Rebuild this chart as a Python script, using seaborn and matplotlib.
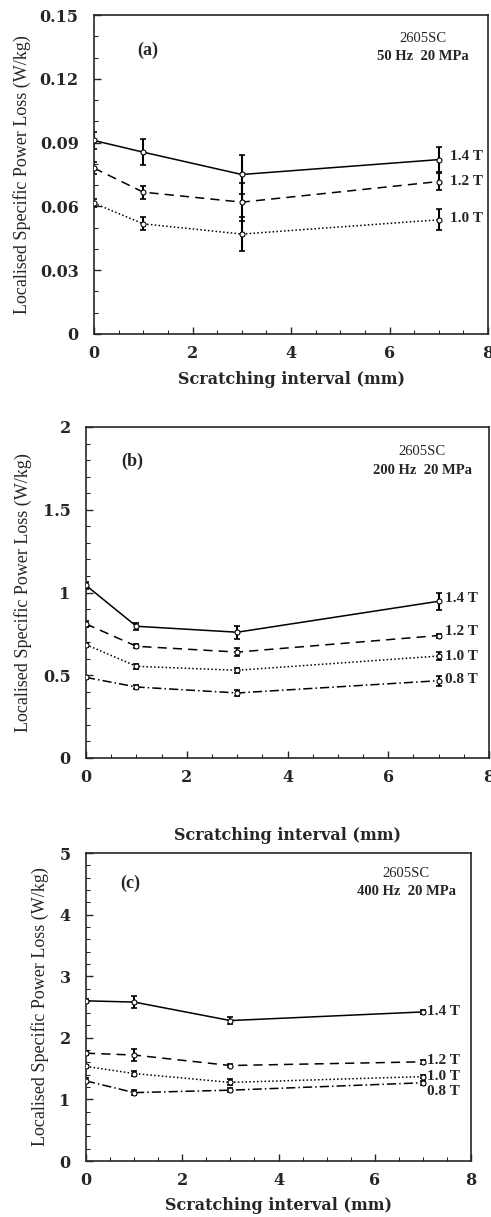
import matplotlib
matplotlib.use("Agg")
import matplotlib.pyplot as plt
import seaborn as sns
import pandas as pd
from matplotlib.ticker import MultipleLocator

sns.set_style("ticks")
plt.rcParams['font.family'] = ['DejaVu Serif']

x_vals = [0, 1, 3, 7]

# Panel (a) 50 Hz
a_labels = ["1.4 T", "1.2 T", "1.0 T"]
a_vals = [[0.091, 0.0855, 0.075, 0.082],
          [0.078, 0.0667, 0.062, 0.0717],
          [0.0615, 0.0518, 0.047, 0.0537]]
a_errs = [[0.004, 0.006, 0.009, 0.006],
          [0.003, 0.003, 0.009, 0.004],
          [0.002, 0.003, 0.008, 0.005]]
a_label_y = [0.0835, 0.0715, 0.0545]

# Panel (b) 200 Hz
b_labels = ["1.4 T", "1.2 T", "1.0 T", "0.8 T"]
b_vals = [[1.043, 0.796, 0.76, 0.947],
          [0.81, 0.675, 0.64, 0.74],
          [0.685, 0.554, 0.53, 0.616],
          [0.487, 0.429, 0.393, 0.467]]
b_errs = [[0.02, 0.02, 0.04, 0.05],
          [0.02, 0.012, 0.025, 0.012],
          [0.012, 0.015, 0.015, 0.025],
          [0.01, 0.01, 0.02, 0.03]]
b_label_y = [0.963, 0.765, 0.614, 0.477]

# Panel (c) 400 Hz
c_labels = ["1.4 T", "1.2 T", "1.0 T", "0.8 T"]
c_vals = [[2.60, 2.58, 2.28, 2.42],
          [1.75, 1.72, 1.55, 1.61],
          [1.535, 1.42, 1.276, 1.37],
          [1.30, 1.11, 1.15, 1.27]]
c_errs = [[0.03, 0.1, 0.06, 0.03],
          [0.03, 0.1, 0.02, 0.03],
          [0.03, 0.04, 0.05, 0.03],
          [0.04, 0.04, 0.03, 0.03]]
c_label_y = [2.43, 1.63, 1.37, 1.135]

styles = ['-', (0, (6, 4)), (0, (1, 1.5)), (0, (6, 2, 1, 2))]

panels = [
    dict(rect=(94, 488, 15, 334), vals=a_vals, errs=a_errs, labels=a_labels, ly=a_label_y,
         lx=7.22, ymax=0.15, ymaj=0.03, ymin=0.01, yfmt=lambda v: "0" if v == 0 else f"{v:.2f}",
         tag="(a)", tagpos=(1.1, 0.1335), cond="50 Hz  20 MPa", condpos=(6.68, 0.139, 0.1305),
         ylx=22, xly=380),
    dict(rect=(86, 489, 427, 758), vals=b_vals, errs=b_errs, labels=b_labels, ly=b_label_y,
         lx=7.12, ymax=2.0, ymaj=0.5, ymin=0.1, yfmt=lambda v: f"{v:g}",
         tag="(b)", tagpos=(0.91, 1.79), cond="200 Hz  20 MPa", condpos=(6.67, 1.85, 1.735),
         ylx=23, xly=835),
    dict(rect=(86, 471, 853, 1161), vals=c_vals, errs=c_errs, labels=c_labels, ly=c_label_y,
         lx=7.08, ymax=5.0, ymaj=1.0, ymin=0.2, yfmt=lambda v: f"{v:g}",
         tag="(c)", tagpos=(0.91, 4.51), cond="400 Hz  20 MPa", condpos=(6.65, 4.66, 4.38),
         ylx=40, xly=1205),
]

W, H = 491, 1217
fig = plt.figure(figsize=(W / 100, H / 100), dpi=100)

for p in panels:
    l, r, t, b = p["rect"]
    ax = fig.add_axes([l / W, 1 - b / H, (r - l) / W, (b - t) / H])
    for i, (vals, errs) in enumerate(zip(p["vals"], p["errs"])):
        df = pd.DataFrame({"x": x_vals, "y": vals})
        sns.lineplot(data=df, x="x", y="y", ax=ax, color="black", linewidth=1.1,
                     linestyle=styles[i], marker="o", markersize=3.6,
                     markerfacecolor="white", markeredgecolor="black",
                     markeredgewidth=0.8, zorder=3)
        ax.errorbar(x_vals, vals, yerr=errs, fmt="none", ecolor="black",
                    elinewidth=1.5, capsize=2.5, capthick=1.2, zorder=2)
        ax.text(p["lx"], p["ly"][i], p["labels"][i], fontsize=11, fontweight="bold",
                family="Liberation Serif", va="center", ha="left")
    ax.set_xlim(0, 8)
    ax.set_ylim(0, p["ymax"])
    ax.xaxis.set_major_locator(MultipleLocator(2))
    ax.xaxis.set_minor_locator(MultipleLocator(0.5))
    ax.yaxis.set_major_locator(MultipleLocator(p["ymaj"]))
    ax.yaxis.set_minor_locator(MultipleLocator(p["ymin"]))
    ax.tick_params(axis="both", which="both", direction="in", top=False, right=False)
    ax.tick_params(which="major", length=5, width=1.0)
    ax.tick_params(which="minor", length=3, width=0.8)
    ax.tick_params(axis="x", pad=8)
    ax.tick_params(axis="y", pad=11)
    yt = [v * p["ymaj"] for v in range(int(round(p["ymax"] / p["ymaj"])) + 1)]
    ax.set_yticks(yt)
    ax.set_yticklabels([p["yfmt"](round(v, 4)) for v in yt])
    for lab in ax.get_xticklabels() + ax.get_yticklabels():
        lab.set_fontweight("bold")
        lab.set_fontsize(11.5)
    for s in ax.spines.values():
        s.set_linewidth(1.2)
    ax.set_xlabel("")
    ax.set_ylabel("")
    fig.text((l + r) / 2 / W, 1 - p["xly"] / H, "Scratching interval (mm)",
             ha="center", va="center", fontsize=11.5, fontweight="bold")
    fig.text(p["ylx"] / W, 1 - (t + b) / 2 / H, "Localised Specific Power Loss (W/kg)",
             ha="center", va="center", rotation=90, fontsize=13,
             family="Liberation Serif")
    ax.text(p["tagpos"][0], p["tagpos"][1], p["tag"], ha="center", va="center",
            fontsize=13, fontweight="bold", family="Liberation Serif")
    cx, cy1, cy2 = p["condpos"]
    ax.text(cx, cy1, "2605SC", ha="center", va="center", fontsize=10.5,
            family="Liberation Serif")
    ax.text(cx, cy2, p["cond"], ha="center", va="center", fontsize=10.5,
            fontweight="bold", family="Liberation Serif")

fig.savefig("out.png", dpi=100)
